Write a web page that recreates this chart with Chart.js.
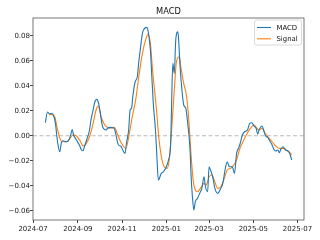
<!DOCTYPE html>
<html>
<head>
<meta charset="utf-8">
<script src="https://cdn.jsdelivr.net/npm/chart.js@4.4.1/dist/chart.umd.min.js"></script>
<style>
  html, body { margin: 0; padding: 0; background: #fff; }
</style>
</head>
<body>
<canvas id="myChart" width="320" height="240"></canvas>
<script>
const macdDates = [
  '2024-07-18', '2024-07-21', '2024-07-24', '2024-07-26', '2024-07-29', '2024-08-01', '2024-08-03', '2024-08-05',
  '2024-08-07', '2024-08-09', '2024-08-11', '2024-08-16', '2024-08-19', '2024-08-22', '2024-08-24', '2024-08-26',
  '2024-08-30', '2024-09-03', '2024-09-06', '2024-09-08', '2024-09-10', '2024-09-13', '2024-09-17', '2024-09-19',
  '2024-09-22', '2024-09-24', '2024-09-27', '2024-09-29', '2024-10-02', '2024-10-04', '2024-10-06', '2024-10-10',
  '2024-10-12', '2024-10-15', '2024-10-21', '2024-10-23', '2024-10-27', '2024-10-30', '2024-11-03', '2024-11-05',
  '2024-11-07', '2024-11-10', '2024-11-12', '2024-11-14', '2024-11-16', '2024-11-19', '2024-11-22', '2024-11-24',
  '2024-11-26', '2024-11-29', '2024-12-01', '2024-12-05', '2024-12-07', '2024-12-10', '2024-12-12', '2024-12-14',
  '2024-12-17', '2024-12-19', '2024-12-21', '2024-12-25', '2024-12-28', '2025-01-01', '2025-01-04', '2025-01-07',
  '2025-01-08', '2025-01-10', '2025-01-12', '2025-01-14', '2025-01-17', '2025-01-18', '2025-01-20', '2025-01-23',
  '2025-01-25', '2025-01-28', '2025-01-30', '2025-02-01', '2025-02-03', '2025-02-04', '2025-02-06', '2025-02-08',
  '2025-02-10', '2025-02-13', '2025-02-16', '2025-02-19', '2025-02-22', '2025-02-24', '2025-02-27', '2025-03-01',
  '2025-03-03', '2025-03-06', '2025-03-09', '2025-03-13', '2025-03-16', '2025-03-20', '2025-03-23', '2025-03-26',
  '2025-03-29', '2025-04-02', '2025-04-05', '2025-04-08', '2025-04-11', '2025-04-13', '2025-04-16', '2025-04-19',
  '2025-04-23', '2025-04-26', '2025-04-29', '2025-05-02', '2025-05-05', '2025-05-07', '2025-05-09', '2025-05-13',
  '2025-05-16', '2025-05-18', '2025-05-21', '2025-05-23', '2025-05-27', '2025-05-30', '2025-06-01', '2025-06-04',
  '2025-06-06', '2025-06-08', '2025-06-11', '2025-06-13', '2025-06-15', '2025-06-19', '2025-06-21', '2025-06-23'
];
const macdValues = [
  0.0104, 0.0190, 0.0174, 0.0180, 0.0166, 0.0099, -0.0010, -0.0088,
  -0.0128, -0.0060, -0.0040, -0.0048, -0.0040, 0.0006, 0.0050, 0.0006,
  -0.0034, -0.0074, -0.0114, -0.0120, -0.0088, -0.0034, 0.0046, 0.0126,
  0.0206, 0.0264, 0.0291, 0.0272, 0.0180, 0.0099, 0.0060, 0.0046,
  0.0060, 0.0067, 0.0060, 0.0019, -0.0074, -0.0082, -0.0128, -0.0141,
  -0.0060, 0.0046, 0.0206, 0.0219, 0.0326, 0.0432, 0.0472, 0.0592,
  0.0686, 0.0819, 0.0851, 0.0867, 0.0832, 0.0686, 0.0472, 0.0259,
  0.0046, -0.0168, -0.0354, -0.0301, -0.0288, -0.0248, -0.0194, -0.0060,
  0.0180, 0.0579, 0.0499, 0.0766, 0.0832, 0.0766, 0.0552, 0.0339,
  0.0246, 0.0219, 0.0126, 0.0019, -0.0141, -0.0301, -0.0488, -0.0594,
  -0.0528, -0.0501, -0.0461, -0.0421, -0.0328, -0.0408, -0.0448, -0.0248,
  -0.0274, -0.0328, -0.0421, -0.0461, -0.0434, -0.0381, -0.0274, -0.0208,
  -0.0248, -0.0248, -0.0301, -0.0141, -0.0095, -0.0060, 0.0006, 0.0032,
  0.0046, 0.0099, 0.0104, 0.0078, 0.0060, 0.0014, 0.0046, 0.0078,
  0.0032, -0.0002, -0.0013, -0.0034, -0.0074, -0.0114, -0.0122, -0.0114,
  -0.0136, -0.0109, -0.0088, -0.0101, -0.0114, -0.0128, -0.0154, -0.0194
];
const signalDates = [
  '2024-07-23', '2024-07-26', '2024-07-31', '2024-08-03', '2024-08-07', '2024-08-10', '2024-08-16', '2024-08-20',
  '2024-08-25', '2024-08-30', '2024-09-04', '2024-09-08', '2024-09-12', '2024-09-17', '2024-09-22', '2024-09-26',
  '2024-09-29', '2024-10-03', '2024-10-08', '2024-10-12', '2024-10-15', '2024-10-21', '2024-10-26', '2024-10-30',
  '2024-11-06', '2024-11-11', '2024-11-15', '2024-11-20', '2024-11-24', '2024-11-29', '2024-12-04', '2024-12-07',
  '2024-12-10', '2024-12-13', '2024-12-18', '2024-12-22', '2024-12-26', '2024-12-29', '2025-01-02', '2025-01-05',
  '2025-01-08', '2025-01-12', '2025-01-15', '2025-01-19', '2025-01-21', '2025-01-25', '2025-01-29', '2025-02-01',
  '2025-02-04', '2025-02-07', '2025-02-10', '2025-02-13', '2025-02-17', '2025-02-22', '2025-02-25', '2025-03-01',
  '2025-03-05', '2025-03-08', '2025-03-13', '2025-03-17', '2025-03-22', '2025-03-26', '2025-03-31', '2025-04-04',
  '2025-04-08', '2025-04-12', '2025-04-19', '2025-04-23', '2025-04-28', '2025-05-02', '2025-05-05', '2025-05-09',
  '2025-05-13', '2025-05-17', '2025-05-21', '2025-05-27', '2025-06-01', '2025-06-06', '2025-06-11', '2025-06-15',
  '2025-06-19', '2025-06-23'
];
const signalValues = [
  0.0166, 0.0171, 0.0152, 0.0072, -0.0021, -0.0048, -0.0048, -0.0029,
  0.0006, -0.0002, -0.0040, -0.0082, -0.0066, -0.0008, 0.0099, 0.0206,
  0.0238, 0.0152, 0.0086, 0.0067, 0.0060, 0.0067, 0.0006, -0.0048,
  -0.0101, 0.0019, 0.0152, 0.0299, 0.0472, 0.0659, 0.0779, 0.0814,
  0.0739, 0.0526, 0.0232, -0.0034, -0.0194, -0.0248, -0.0261, -0.0194,
  0.0019, 0.0366, 0.0592, 0.0632, 0.0552, 0.0419, 0.0312, 0.0126,
  -0.0141, -0.0354, -0.0434, -0.0448, -0.0421, -0.0381, -0.0394, -0.0328,
  -0.0314, -0.0354, -0.0421, -0.0408, -0.0341, -0.0274, -0.0261, -0.0234,
  -0.0194, -0.0110, -0.0021, 0.0024, 0.0067, 0.0086, 0.0067, 0.0046,
  0.0060, 0.0024, -0.0008, -0.0048, -0.0082, -0.0101, -0.0101, -0.0114,
  -0.0128, -0.0154
];
const xTickLabels = ['2024-07', '2024-09', '2024-11', '2025-01', '2025-03', '2025-05', '2025-07'];
const yTickValues = [-0.06, -0.04, -0.02, 0.00, 0.02, 0.04, 0.06, 0.08];

const toPoints = (dates, values) => dates.map((d, i) => ({ x: Date.parse(d), y: values[i] }));
const tickFont = { family: 'DejaVu Sans', size: 7 };

// axes box, dashed zero line, title and legend, drawn the matplotlib way
const decorations = {
    id: 'decorations',
    beforeDatasetsDraw(chart) {
        const { ctx, chartArea: a, scales } = chart;
        const y0 = scales.y.getPixelForValue(0);
        ctx.save();
        ctx.strokeStyle = 'rgba(128,128,128,0.55)';
        ctx.lineWidth = 1;
        ctx.setLineDash([4, 2.5]);
        ctx.beginPath();
        ctx.moveTo(a.left, y0);
        ctx.lineTo(a.right, y0);
        ctx.stroke();
        ctx.restore();
    },
    afterDatasetsDraw(chart) {
        const { ctx, chartArea: a } = chart;
        ctx.save();
        // spines
        ctx.strokeStyle = '#555';
        ctx.lineWidth = 0.8;
        ctx.strokeRect(a.left, a.top, a.right - a.left, a.bottom - a.top);
        // title
        ctx.fillStyle = '#111';
        ctx.font = '8.3px "DejaVu Sans"';
        ctx.textAlign = 'center';
        ctx.textBaseline = 'alphabetic';
        ctx.fillText('MACD', (a.left + a.right) / 2, a.top - 4.5);
        // legend
        const bx = a.right - 49.5, by = a.top + 2, bw = 47, bh = 25;
        ctx.fillStyle = 'rgba(255,255,255,0.8)';
        ctx.strokeStyle = '#d0d0d0';
        ctx.lineWidth = 0.8;
        ctx.beginPath();
        ctx.roundRect(bx, by, bw, bh, 2);
        ctx.fill();
        ctx.stroke();
        const items = [['MACD', '#1f77b4'], ['Signal', '#ff7f0e']];
        ctx.font = '6.9px "DejaVu Sans"';
        ctx.textAlign = 'left';
        ctx.textBaseline = 'middle';
        items.forEach(([label, color], i) => {
            const ly = by + 7.5 + i * 11.3;
            ctx.strokeStyle = color;
            ctx.lineWidth = 1.1;
            ctx.beginPath();
            ctx.moveTo(bx + 2.5, ly);
            ctx.lineTo(bx + 16.5, ly);
            ctx.stroke();
            ctx.fillStyle = '#111';
            ctx.fillText(label, bx + 22, ly + 0.3);
        });
        ctx.restore();
    }
};

const config = {
    type: 'line',
    data: {
        datasets: [{
            label: 'MACD',
            data: toPoints(macdDates, macdValues),
            borderColor: '#1f77b4',
            borderWidth: 1.1,
            pointRadius: 0,
            cubicInterpolationMode: 'monotone'
        }, {
            label: 'Signal',
            data: toPoints(signalDates, signalValues),
            borderColor: '#ff7f0e',
            borderWidth: 1.1,
            pointRadius: 0,
            cubicInterpolationMode: 'monotone'
        }]
    },
    options: {
        responsive: false,
        animation: false,
        layout: { padding: { left: 0, top: 18, right: 16, bottom: 0 } },
        scales: {
            x: {
                type: 'linear',
                min: Date.parse('2024-07-01'),
                max: Date.parse('2025-07-10'),
                afterFit: (scale) => { scale.height = 20; },
                afterBuildTicks: (scale) => {
                    scale.ticks = xTickLabels.map(l => ({ value: Date.parse(l + '-01') }));
                },
                grid: { drawOnChartArea: false, drawTicks: true, tickLength: 3, color: '#444' },
                border: { display: false },
                ticks: {
                    font: tickFont,
                    color: '#222',
                    padding: 1.5,
                    maxRotation: 0,
                    autoSkip: false,
                    callback: (v) => new Date(v).toISOString().slice(0, 7)
                }
            },
            y: {
                min: -0.0674,
                max: 0.0942,
                afterFit: (scale) => { scale.width = 33; },
                afterBuildTicks: (scale) => {
                    scale.ticks = yTickValues.map(v => ({ value: v }));
                },
                grid: { drawOnChartArea: false, drawTicks: true, tickLength: 3, color: '#444' },
                border: { display: false },
                ticks: {
                    font: tickFont,
                    color: '#222',
                    padding: 0,
                    callback: (v) => v.toFixed(2).replace('-', '\u2212')
                }
            }
        },
        plugins: {
            legend: { display: false },
            title: { display: false },
            tooltip: { enabled: false }
        }
    },
    plugins: [decorations]
};

var myChart = new Chart(document.getElementById('myChart'), config);
</script>
</body>
</html>
